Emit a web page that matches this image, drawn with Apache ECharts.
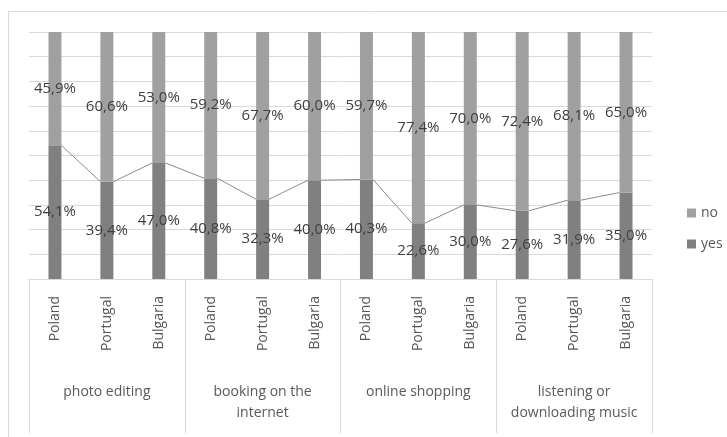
<!DOCTYPE html>
<html>
<head>
<meta charset="utf-8">
<script src="https://cdn.jsdelivr.net/npm/echarts@6/dist/echarts.min.js"></script>
<style>
  html, body { margin: 0; padding: 0; background: #fff; }
  #chart { width: 727px; height: 437px; }
</style>
</head>
<body>
<div id="chart"></div>
<script>
// Share of respondents (%) per activity and country
const countries = ['Poland', 'Portugal', 'Bulgaria',
                   'Poland', 'Portugal', 'Bulgaria',
                   'Poland', 'Portugal', 'Bulgaria',
                   'Poland', 'Portugal', 'Bulgaria'];
const activities = ['photo editing', 'booking on the\ninternet', 'online shopping', 'listening or\ndownloading music'];
const yesValues = [54.1, 39.4, 47.0, 40.8, 32.3, 40.0, 40.3, 22.6, 30.0, 27.6, 31.9, 35.0];
const noValues  = [45.9, 60.6, 53.0, 59.2, 67.7, 60.0, 59.7, 77.4, 70.0, 72.4, 68.1, 65.0];

const FONT = 'Open Sans';
const BAR_RATIO = 0.25;

const fmt = v => v.toFixed(1).replace('.', ',') + '%';

// Series lines: join the top of each "yes" segment to the next one, edge to edge
const seriesLineData = [];
for (let i = 0; i < yesValues.length - 1; i++) {
  seriesLineData.push([i, yesValues[i], yesValues[i + 1]]);
}

const chart = echarts.init(document.getElementById('chart'), null, { renderer: 'canvas' });

chart.setOption({
  animation: false,
  backgroundColor: '#fff',
  graphic: [{
    type: 'rect',
    shape: { x: 8.5, y: 11.5, width: 740, height: 440 },
    style: { fill: 'none', stroke: '#d9d9d9', lineWidth: 1 },
    silent: true,
    z: -10
  }],
  grid: { left: 29, right: 75, top: 32, bottom: 158, containLabel: false },
  legend: {
    orient: 'vertical',
    left: 682,
    top: 201,
    itemWidth: 9,
    itemHeight: 9,
    itemGap: 17,
    icon: 'rect',
    data: ['no', 'yes'],
    textStyle: { fontFamily: FONT, fontSize: 14, color: '#595959' }
  },
  xAxis: [{
    type: 'category',
    data: countries,
    position: 'bottom',
    axisLine: { show: false },
    axisTick: { show: false },
    axisLabel: {
      rotate: 90,
      margin: 17,
      fontFamily: FONT,
      fontSize: 14,
      color: '#595959',
      interval: 0
    }
  }, {
    type: 'category',
    data: activities,
    position: 'bottom',
    axisLine: { show: true, lineStyle: { color: '#d9d9d9', width: 1 } },
    axisTick: { show: true, length: 154, lineStyle: { color: '#d9d9d9', width: 1 } },
    axisLabel: {
      margin: 103,
      fontFamily: FONT,
      fontSize: 14,
      lineHeight: 21,
      color: '#595959',
      interval: 0
    }
  }],
  yAxis: {
    type: 'value',
    min: 0,
    max: 100,
    interval: 10,
    axisLine: { show: false },
    axisTick: { show: false },
    axisLabel: { show: false },
    splitLine: { lineStyle: { color: '#d9d9d9', width: 1 } }
  },
  series: [{
    name: 'yes',
    type: 'bar',
    stack: 'share',
    barWidth: (BAR_RATIO * 100) + '%',
    data: yesValues,
    itemStyle: { color: '#808080' },
    label: {
      show: true,
      position: 'inside',
      formatter: p => fmt(p.value),
      fontFamily: FONT,
      fontSize: 15,
      color: '#404040'
    },
    z: 3
  }, {
    name: 'no',
    type: 'bar',
    stack: 'share',
    barWidth: (BAR_RATIO * 100) + '%',
    data: noValues,
    itemStyle: { color: '#a0a0a0' },
    label: {
      show: true,
      position: 'inside',
      formatter: p => fmt(p.value),
      fontFamily: FONT,
      fontSize: 15,
      color: '#404040'
    },
    z: 3
  }, {
    name: 'series lines',
    type: 'custom',
    data: seriesLineData,
    encode: { x: 0, y: 1 },
    silent: true,
    z: 2,
    renderItem: (params, api) => {
      const i = api.value(0);
      const p1 = api.coord([i, api.value(1)]);
      const p2 = api.coord([i + 1, api.value(2)]);
      const half = api.size([1, 0])[0] * BAR_RATIO / 2;
      return {
        type: 'line',
        shape: { x1: p1[0] + half, y1: p1[1], x2: p2[0] - half, y2: p2[1] },
        style: { stroke: '#8c8c8c', lineWidth: 1 }
      };
    }
  }]
});
</script>
</body>
</html>
